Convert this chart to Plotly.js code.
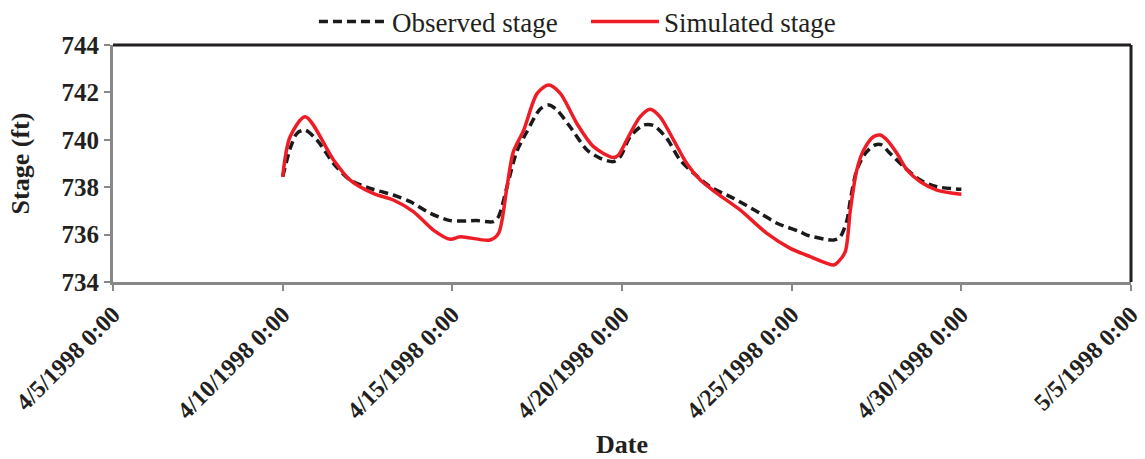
<!DOCTYPE html>
<html>
<head>
<meta charset="utf-8">
<script src="https://cdn.plot.ly/plotly-3.0.1.min.js"></script>
<style>
html,body{margin:0;padding:0;background:#fff;}
#chart{width:1145px;height:459px;}
</style>
</head>
<body>
<div id="chart"></div>
<script>
const obsDates = ['1998-04-10 00:00','1998-04-10 05:45','1998-04-10 10:05','1998-04-10 15:50','1998-04-11 00:15','1998-04-11 12:00','1998-04-11 23:45','1998-04-12 13:55','1998-04-13 06:15','1998-04-13 18:15','1998-04-14 08:25','1998-04-14 22:35','1998-04-15 17:15','1998-04-16 05:00','1998-04-16 08:40','1998-04-16 14:40','1998-04-16 21:35','1998-04-17 04:50','1998-04-17 14:10','1998-04-17 20:10','1998-04-18 01:55','1998-04-18 11:15','1998-04-18 23:15','1998-04-19 08:40','1998-04-19 18:00','1998-04-19 22:50','1998-04-20 05:45','1998-04-20 15:10','1998-04-20 22:20','1998-04-21 07:40','1998-04-21 17:00','1998-04-22 02:40','1998-04-22 14:25','1998-04-23 06:55','1998-04-24 01:40','1998-04-24 13:40','1998-04-25 06:00','1998-04-25 10:50','1998-04-26 05:45','1998-04-26 10:20','1998-04-26 15:10','1998-04-26 17:30','1998-04-26 22:05','1998-04-27 04:05','1998-04-27 11:00','1998-04-27 15:50','1998-04-27 20:25','1998-04-28 07:10','1998-04-28 19:00','1998-04-29 06:45','1998-04-30 00:00'];
const obsStage = [738.44,739.71,740.27,740.41,739.99,739.0,738.30,737.95,737.67,737.39,736.9,736.59,736.59,736.55,736.76,738.02,739.5,740.35,741.30,741.47,741.26,740.55,739.57,739.22,739.08,739.29,740.13,740.62,740.60,740.06,739.15,738.59,738.02,737.53,736.90,736.48,736.12,735.98,735.77,735.91,736.62,737.46,738.73,739.43,739.78,739.78,739.50,738.87,738.30,738.02,737.91];

const simDates = ['1998-04-10 00:00','1998-04-10 05:15','1998-04-10 16:00','1998-04-11 12:00','1998-04-11 23:45','1998-04-12 16:00','1998-04-13 06:15','1998-04-13 20:25','1998-04-14 10:35','1998-04-14 22:35','1998-04-15 05:30','1998-04-16 02:40','1998-04-16 08:40','1998-04-16 14:40','1998-04-16 19:10','1998-04-17 02:25','1998-04-17 12:00','1998-04-17 20:10','1998-04-18 04:20','1998-04-18 16:05','1998-04-19 03:50','1998-04-19 18:00','1998-04-19 21:35','1998-04-20 03:20','1998-04-20 12:45','1998-04-20 19:55','1998-04-21 02:55','1998-04-21 12:30','1998-04-21 21:50','1998-04-22 07:25','1998-04-22 19:10','1998-04-23 11:30','1998-04-24 06:30','1998-04-24 23:00','1998-04-25 13:10','1998-04-26 05:45','1998-04-26 09:05','1998-04-26 13:55','1998-04-26 17:30','1998-04-26 22:05','1998-04-27 02:55','1998-04-27 09:50','1998-04-27 14:40','1998-04-27 19:25','1998-04-28 02:25','1998-04-28 09:35','1998-04-28 19:00','1998-04-29 06:45','1998-04-30 00:00'];
const simStage = [738.44,740.13,740.97,739.15,738.30,737.74,737.46,736.97,736.19,735.80,735.91,735.77,736.05,738.02,739.5,740.4,741.96,742.31,741.96,740.69,739.71,739.25,739.36,739.99,740.97,741.29,740.97,739.99,739.0,738.30,737.74,737.04,736.05,735.42,735.07,734.72,734.86,735.28,737.04,738.73,739.57,740.13,740.20,739.99,739.43,738.73,738.23,737.88,737.70];

const tickDates = ['1998-04-05','1998-04-10','1998-04-15','1998-04-20','1998-04-25','1998-04-30','1998-05-05'];
const tickLabels = ['4/5/1998 0:00','4/10/1998 0:00','4/15/1998 0:00','4/20/1998 0:00','4/25/1998 0:00','4/30/1998 0:00','5/5/1998 0:00'];

const serif = '"Liberation Serif", "Times New Roman", Times, serif';
const ink = '#231f20';

const traces = [
  {x: obsDates, y: obsStage, type: 'scatter', mode: 'lines', name: 'Observed stage',
   line: {color: '#1a1a1a', width: 3.5, dash: '9px,5px', shape: 'spline', smoothing: 0.8}},
  {x: simDates, y: simStage, type: 'scatter', mode: 'lines', name: 'Simulated stage',
   line: {color: '#ee1c24', width: 3.5, shape: 'spline', smoothing: 0.8}}
];

const layout = {
  width: 1145, height: 459,
  margin: {l: 113, r: 14, t: 45, b: 177, autoexpand: false},
  paper_bgcolor: '#fff', plot_bgcolor: '#fff',
  font: {family: serif, color: ink},
  showlegend: true,
  legend: {orientation: 'h', x: 0.4646, xanchor: 'center', y: 1.097, yanchor: 'middle',
           font: {family: serif, size: 27, color: ink}, bgcolor: 'rgba(0,0,0,0)', itemwidth: 68,
           entrywidth: 189, entrywidthmode: 'pixels', tracegroupgap: 0},
  xaxis: {
    type: 'date', range: ['1998-04-05', '1998-05-05'],
    tickmode: 'array', tickvals: tickDates, ticktext: tickLabels,
    tickangle: -45, ticks: 'outside', ticklen: 6, tickwidth: 2, tickcolor: '#888',
    showline: true, linecolor: '#888', linewidth: 3, showgrid: false, zeroline: false,
    tickfont: {family: serif, size: 24, color: ink, weight: 'bold'},
    title: {text: 'Date', font: {family: serif, size: 26, color: ink, weight: 'bold'}, standoff: 20}
  },
  yaxis: {
    range: [734, 744], dtick: 2, tick0: 734,
    ticks: 'outside', ticklen: 6, tickwidth: 2, tickcolor: '#888',
    showline: true, linecolor: '#888', linewidth: 3, showgrid: false, zeroline: false,
    tickfont: {family: serif, size: 25, color: ink, weight: 'bold'},
    title: {text: 'Stage (ft)', font: {family: serif, size: 26, color: ink, weight: 'bold'}, standoff: 25}
  },
  shapes: [
    {type: 'line', xref: 'paper', yref: 'paper', x0: 0, x1: 1, y0: 1, y1: 1, line: {color: ink, width: 3}},
    {type: 'line', xref: 'paper', yref: 'paper', x0: 1, x1: 1, y0: 0, y1: 1, line: {color: ink, width: 3}}
  ]
};

Plotly.newPlot('chart', traces, layout, {displayModeBar: false, staticPlot: true});
</script>
</body>
</html>
